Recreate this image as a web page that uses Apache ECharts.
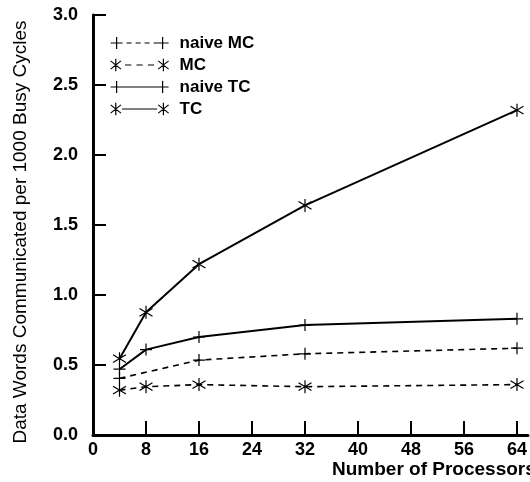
<!DOCTYPE html>
<html>
<head>
<meta charset="utf-8">
<script src="https://cdn.jsdelivr.net/npm/echarts@6/dist/echarts.min.js"></script>
<style>
  html, body { margin: 0; padding: 0; background: #fff; }
  #main { width: 530px; height: 482px; }
</style>
</head>
<body>
<div id="main"></div>
<script>
// data
var naiveMcX = [4, 16, 32, 64];
var naiveMc = [0.405, 0.535, 0.58, 0.62];
var mcX = [4, 8, 16, 32, 64];
var mc = [0.32, 0.345, 0.36, 0.345, 0.36];
var naiveTcX = [4, 8, 16, 32, 64];
var naiveTc = [0.47, 0.61, 0.70, 0.785, 0.83];
var tcX = [4, 8, 16, 32, 64];
var tc = [0.545, 0.876, 1.22, 1.64, 2.32];
var xTicks = [0, 8, 16, 24, 32, 40, 48, 56, 64];

var PLUS = "path://M0,5 L10,5 M5,0 L5,10";
var STAR = "path://M5,0 L5,10 M0,2 L10,8 M0,8 L10,2";
// legend keys: marker, line, marker (drawn 58x12)
var ICON_PLUS_DASH = "path://M0,6 L12,6 M6,0 L6,12 M16,6 L21,6 M25,6 L30,6 M34,6 L39,6 M43,6 L58,6 M52,0 L52,12";
var ICON_STAR_DASH = "path://M1,2 L11,10 M1,10 L11,2 M6,0 L6,12 M15,6 L21,6 M26,6 L32,6 M37,6 L43,6 M47,2 L57,10 M47,10 L57,2 M52,0 L52,12";
var ICON_PLUS_LINE = "path://M0,6 L58,6 M6,0 L6,12 M52,0 L52,12";
var ICON_STAR_LINE = "path://M1,2 L11,10 M1,10 L11,2 M6,0 L6,12 M12,6 L46,6 M47,2 L57,10 M47,10 L57,2 M52,0 L52,12";

function pairs(xs, ys) {
  return xs.map(function (x, i) { return [x, ys[i]]; });
}

function makeSeries(name, xs, ys, sym, size, dashed) {
  return {
    name: name,
    type: "line",
    data: pairs(xs, ys),
    symbol: sym,
    symbolSize: size,
    showAllSymbol: true,
    itemStyle: { color: "#000", borderColor: "#000", borderWidth: 1.2 },
    lineStyle: {
      color: "#000",
      width: dashed ? 1.6 : 2,
      type: dashed ? [6, 5] : "solid"
    },
    emphasis: { disabled: true },
    z: 3
  };
}

var myChart = echarts.init(document.getElementById("main"));
var font = "Liberation Sans, Arial, Helvetica, sans-serif";

var option = {
  animation: false,
  backgroundColor: "#fff",
  title: {
    text: "Number of Processors",
    left: 332,
    top: 460,
    padding: 0,
    textStyle: { fontFamily: font, fontSize: 19, fontWeight: "bold", color: "#000" }
  },
  legend: {
    orient: "vertical",
    left: 110,
    top: 33,
    padding: 0,
    itemWidth: 58,
    itemHeight: 14,
    itemGap: 2,
    selectedMode: false,
    itemStyle: { borderWidth: 1.2, borderColor: "#000" },
    textStyle: {
      fontFamily: font, fontSize: 17, fontWeight: "bold", color: "#000",
      lineHeight: 20, padding: [0, 0, 0, 6]
    },
    data: [
      { name: "naive MC", icon: ICON_PLUS_DASH },
      { name: "MC", icon: ICON_STAR_DASH },
      { name: "naive TC", icon: ICON_PLUS_LINE },
      { name: "TC", icon: ICON_STAR_LINE }
    ]
  },
  grid: { left: 93, right: 0, top: 15, bottom: 47 },
  xAxis: {
    type: "value",
    min: 0,
    max: 65.66,
    axisLine: { lineStyle: { color: "#000", width: 3 } },
    axisTick: { inside: true, length: 14, customValues: xTicks, lineStyle: { color: "#000", width: 2 } },
    axisLabel: {
      customValues: xTicks,
      margin: 6,
      fontFamily: font, fontSize: 18, fontWeight: "bold", color: "#000"
    },
    splitLine: { show: false }
  },
  yAxis: {
    type: "value",
    min: 0,
    max: 3,
    interval: 0.5,
    name: "Data Words Communicated per 1000 Busy Cycles",
    nameLocation: "middle",
    nameGap: 63,
    nameTextStyle: { fontFamily: font, fontSize: 19, color: "#000", padding: [0, 14, 0, 0] },
    axisLine: { lineStyle: { color: "#000", width: 3 } },
    axisTick: { inside: true, length: 13, lineStyle: { color: "#000", width: 2 } },
    axisLabel: {
      margin: 15,
      formatter: function (v) { return v.toFixed(1); },
      fontFamily: font, fontSize: 18, fontWeight: "bold", color: "#000"
    },
    splitLine: { show: false }
  },
  series: [
    makeSeries("naive MC", naiveMcX, naiveMc, PLUS, 12, true),
    makeSeries("MC", mcX, mc, STAR, 13, true),
    makeSeries("naive TC", naiveTcX, naiveTc, PLUS, 12, false),
    makeSeries("TC", tcX, tc, STAR, 13, false)
  ]
};

myChart.setOption(option);
</script>
</body>
</html>
